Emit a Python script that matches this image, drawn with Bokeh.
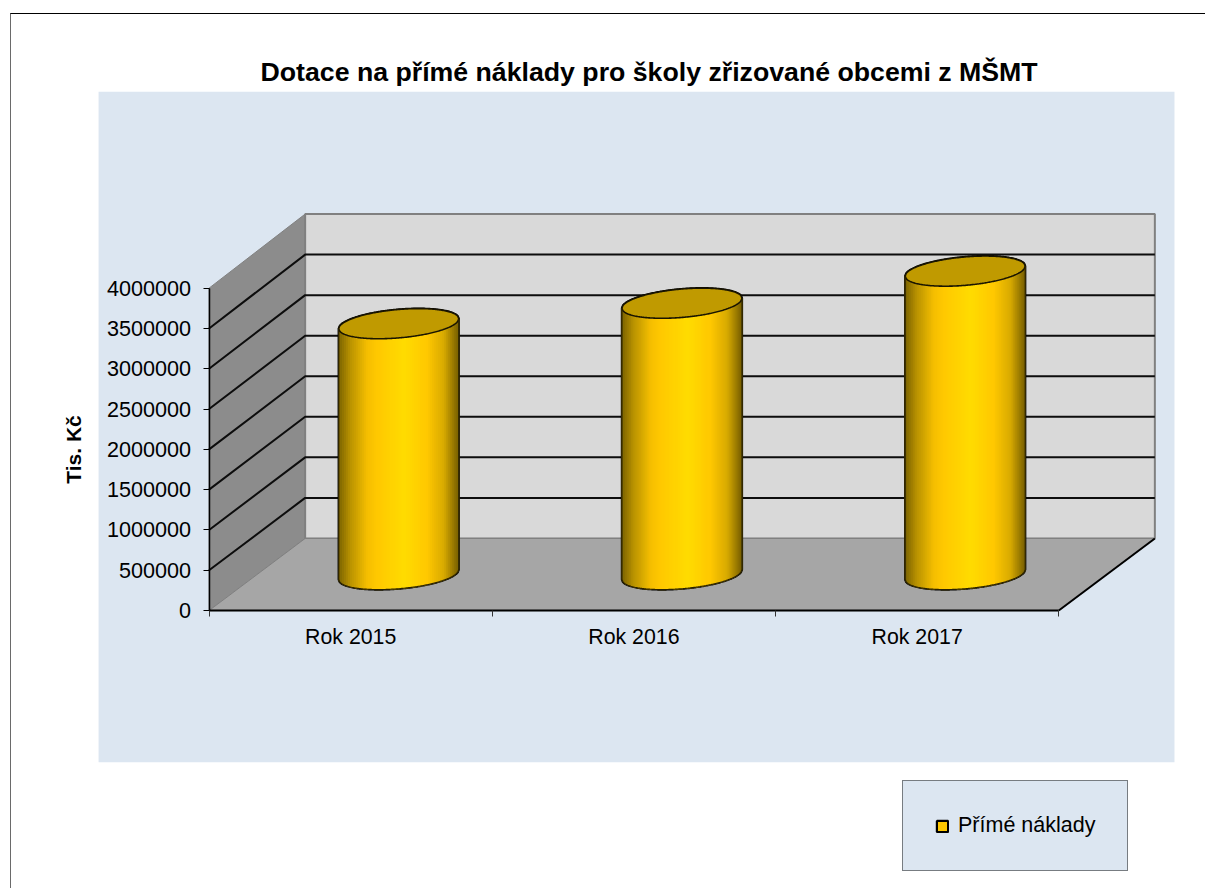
import numpy as np
from bokeh.embed import file_html
from bokeh.resources import INLINE
from bokeh.plotting import figure
from bokeh.models import FixedTicker, BasicTickFormatter, Range1d, LegendItem, Legend

TITLE = "Dotace na přímé náklady pro školy zřizované obcemi z MŠMT"
Y_LABEL = "Tis. Kč"
SERIES_NAME = "Přímé náklady"
categories = ["Rok 2015", "Rok 2016", "Rok 2017"]
values = [3112000, 3366000, 3764000]
y_ticks = [0, 500000, 1000000, 1500000, 2000000, 2500000, 3000000, 3500000, 4000000]

# layout: page pixels
FIG_L, FIG_T, FIG_W, FIG_H = 10, 13, 1195, 875
FRAME_T = 91
PX_CAT = 283.0
PX_VAL = 80.5e-6
AX_X, AX_Y = 208.4, 609.4
fx = lambda px: (px - AX_X) / PX_CAT
fy = lambda py: (AX_Y - py) / PX_VAL
sx = 1 / PX_CAT
sy = 1 / PX_VAL
DX = 96 * sx
DY = 72 * sy
BACK = 324 / 322

p = figure(width=FIG_W, height=FIG_H, output_backend="svg", toolbar_location=None,
           min_border_left=0, min_border_right=0, min_border_bottom=0, min_border_top=FRAME_T - FIG_T - 1,
           x_range=Range1d(fx(FIG_L + 1), fx(FIG_L + FIG_W)), y_range=Range1d(fy(FIG_T + FIG_H), fy(FRAME_T)),
           background_fill_color="white", border_fill_color="white", outline_line_color=None)
p.styles = {"margin-left": f"{FIG_L}px", "margin-top": f"{FIG_T}px", "border-top": "1px solid #000000",
            "border-left": "1px solid #6a6a6a"}
p.grid.visible = False

p.title.text = TITLE
p.title.text_font = "Liberation Sans"
p.title.text_font_size = "26.7px"
p.title.text_font_style = "bold"
p.title.text_color = "black"
p.title.align = "left"
p.title.offset = 249
p.title.standoff = 10

# panel
p.quad(left=[fx(98)], right=[fx(1173)], bottom=[fy(761)], top=[fy(91)], fill_color="#DCE6F1", line_color=None)

# walls and floor
nb = len(categories)
top = max(y_ticks)
p.patch([0, DX, DX, 0], [0, DY, DY + top * BACK, top], fill_color="#8C8C8C", line_color="#808080", line_width=1)
p.patch([DX, nb + DX, nb + DX, DX], [DY, DY, DY + top * BACK, DY + top * BACK],
        fill_color="#D9D9D9", line_color="#808080", line_width=2)
p.patch([0, DX, nb + DX, nb], [0, DY, DY, 0], fill_color="#A6A6A6", line_color="#808080", line_width=1)
for v in y_ticks[1:-1]:
    p.line([0, DX, nb + DX], [v, DY + v * BACK, DY + v * BACK], line_color="#0d0d0d", line_width=2)
p.line([nb, nb + DX], [0, DY], line_color="black", line_width=2)

# cylinders
R, TILT, MINOR = 60.0, 5.0, 14.2
stops_pos = [0.0, 0.10, 0.24, 0.32, 0.55, 0.74, 0.88, 1.0]
stops_rgb = np.array([[0x78, 0x60, 0x00], [0xB8, 0x92, 0x00], [0xF4, 0xBE, 0x00], [0xFF, 0xC8, 0x00],
                      [0xFF, 0xDC, 0x00], [0xFF, 0xC8, 0x00], [0xD8, 0xAA, 0x00], [0x78, 0x60, 0x00]], float)
N = 60
edges = np.linspace(-1, 1, N + 1)
arc = lambda s: np.sqrt(np.clip(1 - s * s, 0, 1))
s = np.linspace(-1, 1, 121)

sil_x, sil_y = [], []
for i, v in enumerate(values):
    cx_d = i + 0.5 + DX / 2
    base, tip = DY / 2, DY / 2 + v
    x = cx_d + s * R * sx
    sil_x.append(np.concatenate([x, x[::-1]]))
    sil_y.append(np.concatenate([base + (TILT * s - MINOR * arc(s)) * sy,
                                 tip + (TILT * s[::-1] + MINOR * arc(s[::-1])) * sy]))
bars = p.patches(sil_x, sil_y, fill_color="#FFC800", line_color="black", line_width=2.2)

for i, v in enumerate(values):
    cx_d = i + 0.5 + DX / 2
    base, tip = DY / 2, DY / 2 + v
    xs, ys, cols = [], [], []
    for a, b in zip(edges[:-1], edges[1:]):
        ss = np.linspace(a, b, 4)
        x = cx_d + ss * R * sx
        y_top = tip + (TILT * ss - MINOR * arc(ss)) * sy
        y_bot = base + (TILT * ss - MINOR * arc(ss)) * sy
        xs.append(np.concatenate([x, x[::-1]]))
        ys.append(np.concatenate([y_top, y_bot[::-1]]))
        t = (a + b + 2) / 4
        rgb = [np.interp(t, stops_pos, stops_rgb[:, k]) for k in range(3)]
        cols.append("#%02x%02x%02x" % tuple(int(round(c)) for c in rgb))
    p.patches(xs, ys, fill_color=cols, line_color=cols, line_width=1)
    x = cx_d + s * R * sx
    ex = np.concatenate([x, x[::-1]])
    ey = tip + np.concatenate([(TILT * s - MINOR * arc(s)), (TILT * s[::-1] + MINOR * arc(s[::-1]))]) * sy
    p.patch(ex, ey, fill_color="#C09A00", line_color="#1a1500", line_width=1.6)
    ox = np.concatenate([[x[0]], x, [x[-1]]])
    oy = np.concatenate([[tip + (TILT * s[0]) * sy], base + (TILT * s - MINOR * arc(s)) * sy, [tip + TILT * s[-1] * sy]])
    p.line(ox, oy, line_color="#2a2200", line_width=1.2)

# axes
font = "Liberation Sans"
ya = p.yaxis[0]
ya.ticker = FixedTicker(ticks=y_ticks)
ya.formatter = BasicTickFormatter(use_scientific=False)
ya.fixed_location = 0
ya.bounds = (0, top)
ya.major_tick_in = 0
ya.major_tick_out = 6
ya.minor_tick_in = 0
ya.minor_tick_out = 0
ya.axis_line_color = "black"
ya.axis_line_width = 1.5
ya.major_tick_line_color = "black"
ya.major_label_text_font = font
ya.major_label_text_font_size = "21.6px"
ya.major_label_text_color = "black"
ya.major_label_standoff = 12
ya.axis_label = Y_LABEL
ya.axis_label_text_font = font
ya.axis_label_text_font_size = "21px"
ya.axis_label_text_font_style = "bold"
ya.axis_label_text_color = "black"
ya.axis_label_standoff = 19

xa = p.xaxis[0]
xa.ticker = FixedTicker(ticks=[i + 0.5 for i in range(nb)], minor_ticks=list(range(nb + 1)))
xa.major_label_overrides = {i + 0.5: c for i, c in enumerate(categories)}
xa.fixed_location = 0
xa.bounds = (0, nb)
xa.major_tick_line_color = None
xa.major_tick_in = 0
xa.major_tick_out = 0
xa.minor_tick_in = 0
xa.minor_tick_out = 6
xa.minor_tick_line_color = "#333333"
xa.axis_line_color = "black"
xa.axis_line_width = 2
xa.major_label_standoff = 8
xa.major_label_text_font = font
xa.major_label_text_font_size = "21.3px"
xa.major_label_text_color = "black"

# legend
lg = Legend(items=[LegendItem(label=SERIES_NAME, renderers=[bars], index=0)], location=(891, 18),
            margin=0, padding=32, spacing=0, glyph_width=14, glyph_height=14, label_standoff=9,
            label_text_font=font, label_text_font_size="21.5px", label_text_color="black",
            background_fill_color="#DCE6F1", background_fill_alpha=1,
            border_line_color="#111111", border_line_width=1)
p.add_layout(lg, "center")

open("out.html", "w").write(file_html(p, INLINE))
